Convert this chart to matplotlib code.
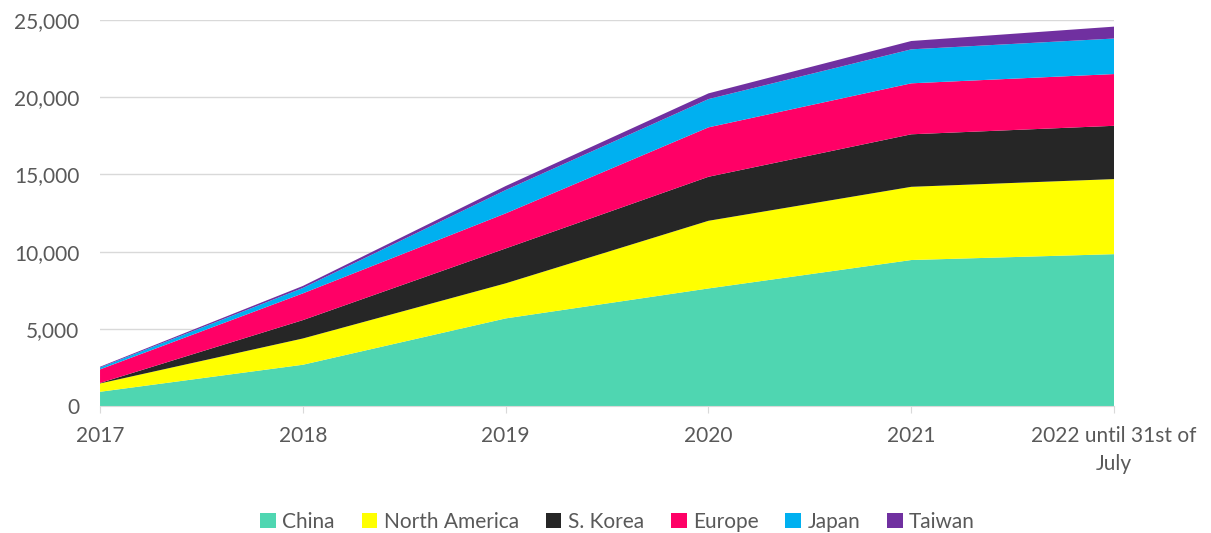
import matplotlib.pyplot as plt
from matplotlib.ticker import FuncFormatter
from matplotlib.patches import Patch

years = ["2017", "2018", "2019", "2020", "2021", "2022 until 31st of\nJuly"]
china = [930, 2680, 5680, 7620, 9460, 9840]
north_america = [540, 1700, 2270, 4380, 4740, 4860]
s_korea = [30, 1190, 2260, 2850, 3400, 3450]
europe = [880, 1730, 2270, 3200, 3300, 3350]
japan = [120, 350, 1510, 1830, 2200, 2300]
taiwan = [50, 130, 260, 370, 540, 770]

labels = ["China", "North America", "S. Korea", "Europe", "Japan", "Taiwan"]
colors = ["#4fd6b1", "#ffff00", "#262626", "#ff0066", "#00b0f0", "#7030a0"]

plt.rcParams['font.family'] = ['Lato', 'DejaVu Sans']
text_color = "#595959"

fig = plt.figure(figsize=(12.11, 5.33), dpi=100)
ax = fig.add_axes([0.0826, 0.238, 0.8374, 0.7245])

x = list(range(len(years)))
ax.stackplot(x, china, north_america, s_korea, europe, japan, taiwan,
             colors=colors, linewidth=0, zorder=2)

ax.set_xlim(0, len(years) - 1)
ax.set_ylim(0, 25000)
ax.set_yticks(range(0, 25001, 5000))
ax.yaxis.set_major_formatter(FuncFormatter(lambda v, p: f"{int(v):,}"))
ax.set_xticks(x)
ax.set_xticklabels(years, ha="center", linespacing=1.55)

ax.grid(axis="y", color="#d9d9d9", linewidth=1, zorder=0)
ax.set_axisbelow(True)
for s in ["top", "right", "left"]:
    ax.spines[s].set_visible(False)
ax.spines["bottom"].set_color("#d9d9d9")
ax.spines["bottom"].set_zorder(3)
ax.tick_params(axis="y", length=0, pad=15, labelsize=15, labelcolor=text_color)
ax.tick_params(axis="x", length=5, color="#d9d9d9", pad=9, labelsize=15,
               labelcolor=text_color)

handles = [Patch(facecolor=c, label=l) for c, l in zip(colors, labels)]
fig.legend(handles=handles, loc="lower center", ncol=6, frameon=False,
           bbox_to_anchor=(0.51, -0.033), fontsize=15, labelcolor=text_color,
           handlelength=0.75, handleheight=0.75, handletextpad=0.3,
           columnspacing=1.3)

fig.savefig("out.png", dpi=100)
